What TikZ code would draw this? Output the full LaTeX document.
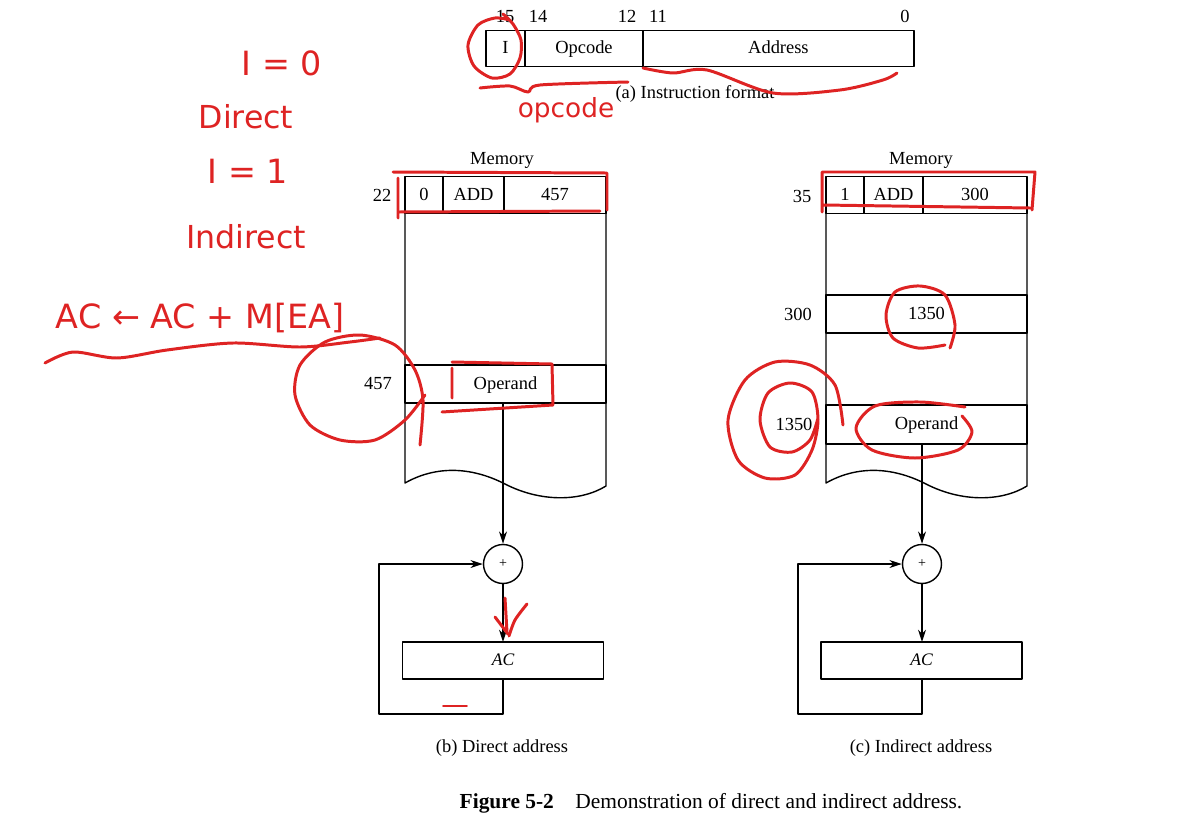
\documentclass[tikz,border=0pt]{standalone}
\usepackage{fontspec}
\setmainfont{Liberation Serif}
\newfontfamily\handfont{DejaVu Sans}
\definecolor{inkred}{RGB}{222,35,35}
\usetikzlibrary{arrows.meta}
\begin{document}
\begin{tikzpicture}[x=0.02cm,y=-0.02cm,>={Stealth[length=7pt,width=4.5pt]},line join=round,line cap=round,font=\fontsize{10.5}{12}\selectfont,
	ink/.style={line width=0.8pt},
	cell/.style={draw,line width=0.8pt,inner sep=0pt,outer sep=0pt,minimum height=0.73cm,text height=1.6ex,text depth=0.25ex},
	adder/.style={draw,circle,line width=0.8pt,inner sep=0pt,minimum size=0.78cm,font=\fontsize{8}{9}\selectfont},
	redpen/.style={inkred,line width=1.7pt},
	scrawl/.style={text=inkred,font=\handfont\fontsize{19}{21}\selectfont}]
\useasboundingbox (0,0) rectangle (1184,822);
% (a) instruction format
\node[cell,minimum width=0.78cm,anchor=west] (fI) at (486,48.5) {I};
\node[cell,minimum width=2.36cm,anchor=west] (fop) at (fI.east) {Opcode};
\node[cell,minimum width=5.42cm,anchor=west] (fad) at (fop.east) {Address};
\foreach \x/\b in {505/15,538/14,627/12,658/11,905/0} \node (bit\b) at (\x,16) {\b};
\node (capa) at (695,94) {(a) Instruction format};
% (b) direct address
\node (bmem) at (502,160) {Memory};
\node (b22) at (382,195) {22};
\node[cell,minimum width=0.76cm,anchor=west] (bI) at (405,195) {0};
\node[cell,minimum width=1.22cm,anchor=west] (bop) at (bI.east) {ADD};
\node[cell,minimum width=2.04cm,anchor=west] (bad) at (bop.east) {457};
\draw[ink] (bI.south west) -- (405,483) .. controls (435,466) and (470,466) .. (505,484)
	.. controls (540,502) and (580,502) .. (606,486) -- (bad.south east);
\node[cell,minimum width=4.02cm,minimum height=0.76cm] (bopd) at (505.5,384) {Operand};
\node (b457) at (378,384) {457};
\node[adder] (bsum) at (503,564) {+};
\node[cell,minimum width=4.02cm,minimum height=0.74cm,font=\itshape] (bac) at (503,660.5) {AC};
\coordinate (bloop) at (379,714);
\draw[ink,->] (bsum |- bopd.south) -- (bsum.north);
\draw[ink,->] (bsum.south) -- (bsum |- bac.north);
\draw[ink,->] (bsum |- bac.south) |- (bloop) |- (bsum.west);
\node (capb) at (502,748) {(b) Direct address};
% (c) indirect address
\node (cmem) at (921,160) {Memory};
\node (c35) at (802,196) {35};
\node[cell,minimum width=0.76cm,anchor=west] (cI) at (826,195) {1};
\node[cell,minimum width=1.18cm,anchor=west] (cop) at (cI.east) {ADD};
\node[cell,minimum width=2.08cm,anchor=west] (cad) at (cop.east) {300};
\draw[ink] (cI.south west) -- (826,483) .. controls (856,466) and (891,466) .. (926,484)
	.. controls (961,502) and (1001,502) .. (1027,486) -- (cad.south east);
\node[cell,minimum width=4.02cm,minimum height=0.76cm] (cptr) at (926.5,314) {1350};
\node (c300) at (798,314) {300};
\node[cell,minimum width=4.02cm,minimum height=0.78cm] (copd) at (926.5,424.5) {Operand};
\node (c1350) at (794,424) {1350};
\node[adder] (csum) at (922,564) {+};
\node[cell,minimum width=4.02cm,minimum height=0.74cm,font=\itshape] (cac) at (921.5,660.5) {AC};
\coordinate (cloop) at (798,714);
\draw[ink,->] (csum |- copd.south) -- (csum.north);
\draw[ink,->] (csum.south) -- (csum |- cac.north);
\draw[ink,->] (csum |- cac.south) |- (cloop) |- (csum.west);
\node (capc) at (921,748) {(c) Indirect address};
\node (fig) at (711,803) {\fontsize{12.2}{14}\selectfont\textbf{Figure 5-2}\quad Demonstration of direct and indirect address.};
% red pen notes
\node[scrawl] (n0) at (282,63) {I = 0};
\node[scrawl,font=\handfont\fontsize{18}{20}\selectfont] (ndir) at (246,117) {Direct};
\node[scrawl] (n1) at (248,171) {I = 1};
\node[scrawl,font=\handfont\fontsize{18}{20}\selectfont] (nind) at (246,237) {Indirect};
\node[scrawl] (nrtl) at (200,318) {AC ← AC + M[EA]};
\node[scrawl,font=\handfont\fontsize{15}{17}\selectfont] (nopc) at (566,110) {opcode};
\draw[redpen] plot[smooth] coordinates {(45,363) (73,352) (117,358) (167,350) (233,343) (300,347) (350,342) (380,338)};
\draw[redpen] plot[smooth] coordinates {(510,20) (495,18) (478,25) (468,45) (474,66) (492,78) (510,74) (520,58) (521,40) (513,24) (503,14)};
\draw[redpen] plot[smooth] coordinates {(480,88) (510,86) (528,92) (540,85) (628,82)};
\draw[redpen] plot[smooth] coordinates {(643,68) (673,73) (707,70) (773,93) (840,90) (883,80) (897,73)};
\draw[redpen] (393,172) -- (607,173) -- (607,210) (398,212) -- (600,211) (398,178) -- (398,218);
\draw[redpen] (822,172) -- (1035,172) -- (1032,210) (823,205) -- (1030,208) (822,172) -- (822,212);
\draw[redpen] plot[smooth] coordinates {(420,445) (423,400) (415,370) (395,345) (360,335) (325,342) (300,365) (295,395) (310,425) (340,440) (375,440) (405,420) (425,395)};
\draw[redpen] (452,368) -- (452,398) (452,362) -- (552,364) -- (553,405) (442,412) -- (553,405);
\draw[redpen] (505,598) -- (507,632) (495,617) -- (508,634);
\draw[redpen] plot[smooth] coordinates {(527,604) (515,620) (509,636)};
\draw[redpen,line width=1pt] (443,706) -- (467,706);
\draw[redpen] plot[smooth] coordinates {(950,348) (955,325) (945,295) (920,286) (895,292) (886,315) (893,338) (918,348) (945,345)};
\draw[redpen] plot[smooth] coordinates {(843,425) (835,385) (810,365) (775,362) (745,380) (728,420) (738,460) (765,478) (795,475) (812,450) (818,420) (812,392) (790,383) (768,393) (760,420) (770,447) (792,452) (810,440) (818,418)};
\draw[redpen] plot[smooth] coordinates {(965,407) (920,402) (875,406) (856,428) (872,450) (915,458) (958,450) (972,432) (962,416)};
\end{tikzpicture}
\end{document}
